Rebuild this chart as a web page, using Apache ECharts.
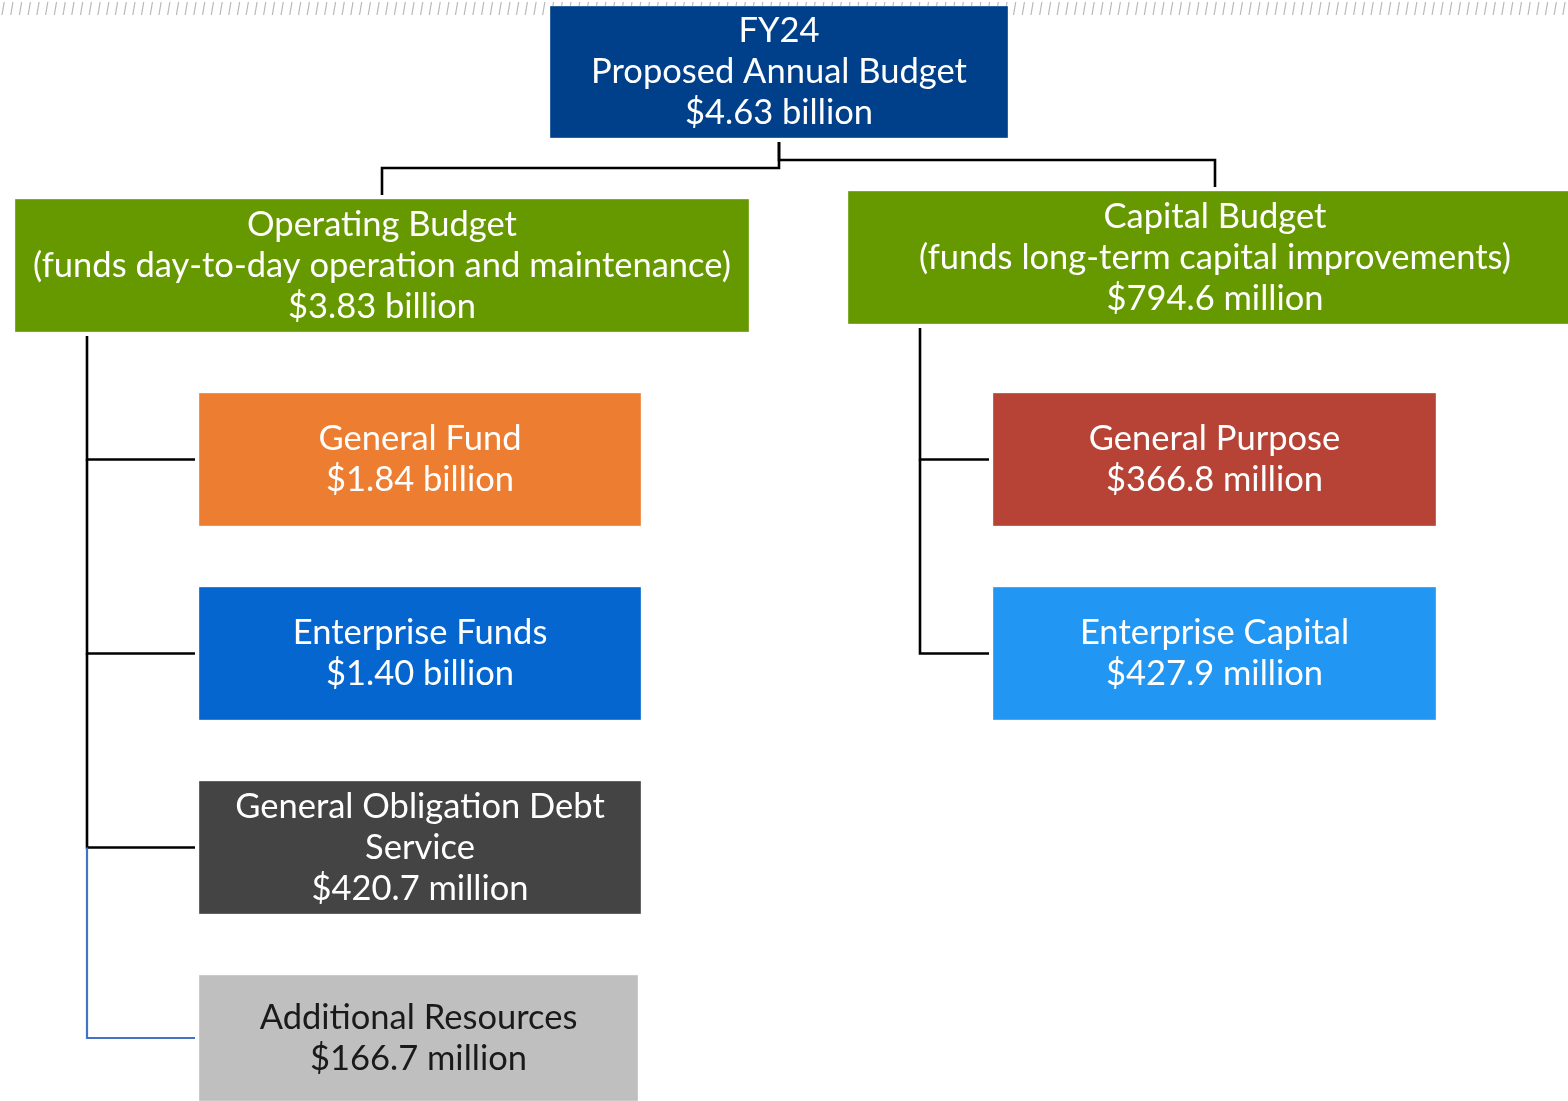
<!DOCTYPE html>
<html>
<head>
<meta charset="utf-8">
<script src="https://cdn.jsdelivr.net/npm/echarts@6/dist/echarts.min.js"></script>
<style>html,body{margin:0;padding:0;background:#fff;}#c{width:1568px;height:1101px;}</style>
</head>
<body>
<div id="c"></div>
<script>
// ---- data ----
const nodeTitles = [
  'FY24\nProposed Annual Budget',
  'Operating Budget\n(funds day-to-day operation and maintenance)',
  'Capital Budget\n(funds long-term capital improvements)',
  'General Fund',
  'Enterprise Funds',
  'General Obligation Debt\nService',
  'Additional Resources',
  'General Purpose',
  'Enterprise Capital'
];
const nodeAmounts = [
  '$4.63 billion', '$3.83 billion', '$794.6 million',
  '$1.84 billion', '$1.40 billion', '$420.7 million', '$166.7 million',
  '$366.8 million', '$427.9 million'
];
const nodeParents = [-1, 0, 0, 1, 1, 1, 1, 2, 2];

// ---- styles / layout ----
const nodeColors = ['#00408A', '#669900', '#669900', '#ED7D31', '#0566D0', '#444444', '#BFBFBF', '#B64335', '#2196F2'];
const nodeTextColors = ['#fff', '#fff', '#fff', '#fff', '#fff', '#fff', '#1a1a1a', '#fff', '#fff'];
const edgeColors = ['#000', '#000', '#000', '#000', '#000', '#000', '#4472C4', '#000', '#000'];
const rowStep = 194, rowTop = 393, boxH = 133;
function layoutBox(i) {
  if (i === 0) return [550, 6, 1008, 138];
  if (i === 1) return [15, 199, 749, 332];
  if (i === 2) return [848, 191, 1582, 324];
  const p = nodeParents[i];
  const sibs = nodeParents.map((q, k) => q === p ? k : -1).filter(k => k >= 0);
  const row = sibs.indexOf(i);
  const y0 = rowTop + row * rowStep;
  if (p === 1) return [199, y0, i === 6 ? 638 : 641, i === 6 ? 1101 : y0 + boxH];
  return [993, y0, 1436, y0 + boxH];
}
const boxes = nodeTitles.map((_, i) => layoutBox(i));

const chart = echarts.init(document.getElementById('c'), null, {renderer: 'canvas'});

// hatch decoration at top
const hatch = [];
for (let x = 2; x < 1568; x += 8.72) {
  hatch.push({type: 'line', shape: {x1: x + 2.2, y1: 2, x2: x, y2: 15}, style: {stroke: '#b8b8b8', lineWidth: 1.2}, silent: true});
}

const FONT = 'Lato';
const FS = 34.5;

chart.setOption({
  animation: false,
  backgroundColor: '#fff',
  grid: {left: 0, right: 0, top: 0, bottom: 0},
  xAxis: {type: 'value', min: 0, max: 1568, show: false},
  yAxis: {type: 'value', min: 0, max: 1101, inverse: true, show: false},
  graphic: hatch,
  series: [
    {
      type: 'custom',
      coordinateSystem: 'cartesian2d',
      z: 2,
      clip: false,
      data: nodeParents.map((p, i) => [i, p]).filter(d => d[1] >= 0),
      renderItem: function (params, api) {
        const i = api.value(0), p = api.value(1);
        const pb = boxes[p], cb = boxes[i];
        const c = v => api.coord(v);
        let pts;
        if (p === 0) {
          const px = (pb[0] + pb[2]) / 2, cx = (cb[0] + cb[2]) / 2;
          const midY = cb[1] - 31;
          pts = [c([px, pb[3] + 4]), c([px, midY]), c([cx, midY]), c([cx, cb[1] - 4])];
        } else {
          const railX = pb[0] + 72;
          const sibs = nodeParents.map((q, k) => q === p ? k : -1).filter(k => k >= 0);
          const idx = sibs.indexOf(i);
          const startY = idx === 0 ? pb[3] + 4 : (boxes[sibs[idx - 1]][1] + boxes[sibs[idx - 1]][3]) / 2;
          const cy = (cb[1] + cb[3]) / 2;
          pts = [c([railX, startY]), c([railX, cy]), c([cb[0] - 4, cy])];
        }
        const blue = edgeColors[i] !== '#000';
        return {type: 'polyline', shape: {points: pts}, style: {stroke: edgeColors[i], lineWidth: blue ? 2.2 : 2.6, fill: null, lineJoin: 'miter'}};
      }
    },
    {
      type: 'custom',
      coordinateSystem: 'cartesian2d',
      z: 3,
      clip: false,
      data: nodeTitles.map((t, i) => [i]),
      renderItem: function (params, api) {
        const i = api.value(0);
        const b = boxes[i];
        const p0 = api.coord([b[0], b[1]]), p1 = api.coord([b[2], b[3]]);
        const cx = (p0[0] + p1[0]) / 2, cy = (p0[1] + p1[1]) / 2;
        return {
          type: 'group',
          children: [
            {type: 'rect', shape: {x: p0[0], y: p0[1], width: p1[0] - p0[0], height: p1[1] - p0[1]},
             style: {fill: nodeColors[i], stroke: 'rgba(255,255,255,0.35)', lineWidth: 1}},
            {type: 'text', x: cx, y: cy,
             style: {text: nodeTitles[i] + '\n' + nodeAmounts[i], align: 'center', verticalAlign: 'middle',
                     fontSize: FS, lineHeight: 41, fontFamily: FONT, fill: nodeTextColors[i]}}
          ]
        };
      }
    }
  ]
});
</script>
</body>
</html>
